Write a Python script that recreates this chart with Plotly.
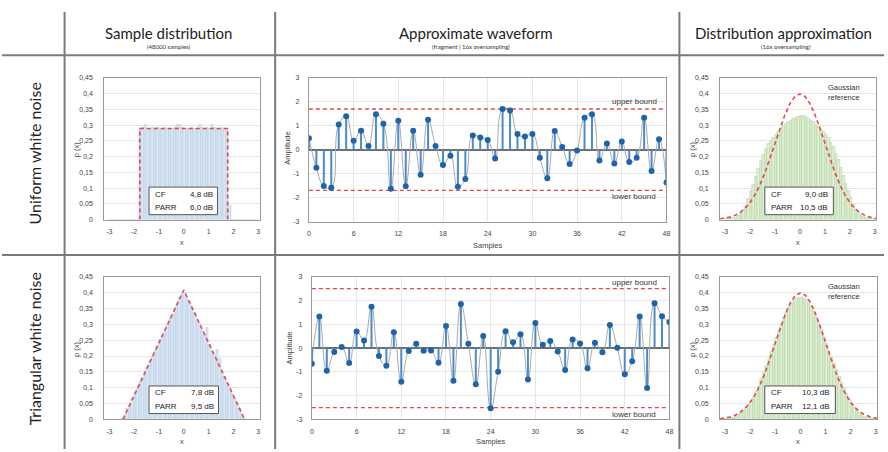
import plotly.graph_objects as go

# ---------------- data ----------------
bin_centers = [round(-2.95 + 0.1 * i, 2) for i in range(60)]

uniform_hist = [0] * 12 + [
    0.287, 0.290, 0.302, 0.289, 0.288, 0.291, 0.287, 0.290, 0.289, 0.288,
    0.290, 0.289, 0.288, 0.287, 0.291, 0.301, 0.302, 0.290, 0.289, 0.288,
    0.288, 0.290, 0.287, 0.289, 0.301, 0.290, 0.288, 0.291, 0.289, 0.301,
    0.290, 0.288, 0.289, 0.290, 0.288, 0.287] + [0.045] + [0] * 11

triangular_hist = [0] * 5 + [
    0.002, 0.016, 0.033, 0.049, 0.066, 0.084, 0.098, 0.118, 0.131, 0.151,
    0.165, 0.185, 0.199, 0.218, 0.232, 0.251, 0.265, 0.284, 0.298, 0.318,
    0.331, 0.352, 0.364, 0.385, 0.397, 0.401, 0.381, 0.368, 0.348, 0.335,
    0.315, 0.302, 0.281, 0.268, 0.290, 0.236, 0.214, 0.201, 0.220, 0.190,
    0.148, 0.135, 0.115, 0.101, 0.082, 0.067, 0.049, 0.034, 0.016, 0.002] + [0] * 5

uniform_os_hist = [
    0.002, 0.003, 0.004, 0.005, 0.007, 0.012, 0.020, 0.030, 0.045, 0.065,
    0.090, 0.110, 0.135, 0.160, 0.185, 0.205, 0.225, 0.240, 0.250, 0.260,
    0.270, 0.280, 0.290, 0.295, 0.305, 0.310, 0.315, 0.320, 0.322, 0.325,
    0.328, 0.330, 0.325, 0.320, 0.315, 0.310, 0.300, 0.295, 0.285, 0.280,
    0.270, 0.260, 0.245, 0.230, 0.210, 0.190, 0.165, 0.140, 0.115, 0.090,
    0.068, 0.048, 0.032, 0.020, 0.013, 0.008, 0.005, 0.004, 0.003, 0.002]

triangular_os_hist = [
    0.002, 0.003, 0.005, 0.007, 0.010, 0.014, 0.020, 0.027, 0.036, 0.047,
    0.058, 0.072, 0.088, 0.107, 0.128, 0.148, 0.168, 0.190, 0.213, 0.235,
    0.258, 0.280, 0.300, 0.320, 0.338, 0.353, 0.365, 0.374, 0.380, 0.384,
    0.385, 0.382, 0.376, 0.366, 0.354, 0.340, 0.322, 0.302, 0.282, 0.262,
    0.240, 0.218, 0.196, 0.176, 0.156, 0.136, 0.116, 0.097, 0.080, 0.064,
    0.050, 0.038, 0.028, 0.020, 0.014, 0.010, 0.007, 0.005, 0.003, 0.002]

uniform_ref_x = [-1.77, -1.77, 1.77, 1.77]
uniform_ref_y = [0, 0.289, 0.289, 0]
triangular_ref_x = [-2.45, 0, 2.45]
triangular_ref_y = [0, 0.408, 0]

gauss_x = [-3.2, -3.0, -2.8, -2.6, -2.4, -2.2, -2.0, -1.8, -1.6, -1.4, -1.2, -1.0, -0.8, -0.6, -0.4, -0.2,
           0.0, 0.2, 0.4, 0.6, 0.8, 1.0, 1.2, 1.4, 1.6, 1.8, 2.0, 2.2, 2.4, 2.6, 2.8, 3.0, 3.05]
gauss_y = [0.0024, 0.0044, 0.0079, 0.0136, 0.0224, 0.0355, 0.0540, 0.0790, 0.1109, 0.1497, 0.1942, 0.2420,
           0.2897, 0.3332, 0.3683, 0.3910, 0.3989, 0.3910, 0.3683, 0.3332, 0.2897, 0.2420, 0.1942, 0.1497,
           0.1109, 0.0790, 0.0540, 0.0355, 0.0224, 0.0136, 0.0079, 0.0044, 0.0038]

samples = list(range(49))
uniform_wave = [
    0.48, -0.75, -1.52, -1.59, 1.05, 1.40, 0.37, 0.79, 0.15, 1.48,
    1.08, -1.63, 1.21, -1.53, 0.79, -1.05, 1.25, 0.16, -0.64, -0.25,
    -1.55, -1.22, 0.59, 0.51, 0.41, -0.37, 1.70, 1.64, 0.66, 0.55,
    0.66, -0.34, -1.19, 0.78, 0.11, -0.60, -0.03, 1.33, 1.48, -0.45,
    0.26, -0.58, 0.34, -0.51, -0.34, 1.33, -0.89, 0.44, -1.37]
triangular_wave = [
    -0.66, 1.33, -0.95, -0.16, 0.05, -0.63, 0.70, 0.32, 1.74, -0.33,
    -0.74, 0.67, -1.41, -0.12, 0.18, -0.11, -0.10, -0.62, 0.93, -1.37,
    1.85, 0.18, -1.52, 0.51, -2.53, -0.99, 0.71, 0.25, 0.58, -1.32,
    1.05, 0.14, 0.30, -0.14, -0.92, 0.36, 0.19, -0.85, 0.22, -0.18,
    0.97, 0.01, -1.10, -0.55, 1.33, -1.68, 1.88, 1.34, 1.10]
uniform_bound = 1.70
triangular_bound = 2.50

dist_ticks = [-3, -2, -1, 0, 1, 2, 3]
dist_tick_labels = ["-3", "-2", "-1", "0", "1", "2", "3"]
p_ticks = [0, 0.05, 0.1, 0.15, 0.2, 0.25, 0.3, 0.35, 0.4, 0.45]
p_tick_labels = ["0", "0,05", "0,1", "0,15", "0,2", "0,25", "0,3", "0,35", "0,4", "0,45"]
wave_xticks = [0, 6, 12, 18, 24, 30, 36, 42, 48]
wave_yticks = [-3, -2, -1, 0, 1, 2, 3]
wave_ytick_labels = ["-3", "-2", "-1", "0", "1", "2", "3"]

col_titles = ["Sample distribution", "Approximate waveform", "Distribution approximation"]
col_subtitles = ["(48000 samples)", "(fragment | 16x oversampling)", "(16x oversampling)"]
row_titles = ["Uniform white noise", "Triangular white noise"]
cf_values = [("4,8 dB", "6,0 dB"), ("9,0 dB", "10,5 dB"), ("7,8 dB", "9,5 dB"), ("10,3 dB", "12,1 dB")]

# ---------------- layout helpers ----------------
W, H = 888, 452
def px(x):
    return x / W
def py(y):
    return 1 - y / H

TICKFONT = dict(family="Liberation Sans, Arial, sans-serif", size=7, color="#444444")
BORDER = "#9a9a9a"
GRID = "#e6e6e6"
BLUE_FILL = "#dde8f4"
BLUE_LINE = "#b3cce6"
GREEN_FILL = "#e0eed8"
GREEN_LINE = "#b2d59e"
RED = "#e3494d"
STEM = "#4a8ccb"
DOT = "#1f64a8"
DASH = "4px,3px"

fig = go.Figure()

panels = {
    1: (103, 260, 75, 219),
    2: (309, 669, 75, 221),
    3: (723, 880, 75, 219),
    4: (103, 260, 277, 422),
    5: (312, 672, 277, 422),
    6: (723, 881, 277, 422),
}

def ax_names(k):
    return ("x" if k == 1 else f"x{k}", "y" if k == 1 else f"y{k}")

layout_axes = {}
for k, (x0, x1, y0, y1) in panels.items():
    xa = "xaxis" if k == 1 else f"xaxis{k}"
    ya = "yaxis" if k == 1 else f"yaxis{k}"
    xn, yn = ax_names(k)
    common = dict(showline=True, mirror=True, linecolor=BORDER, linewidth=1, ticks="",
                  tickfont=TICKFONT, fixedrange=True)
    if k in (2, 5):
        layout_axes[xa] = dict(domain=[px(x0), px(x1)], anchor=yn, range=[0, 48], tickvals=wave_xticks,
                               showgrid=True, gridcolor=GRID, zeroline=False, ticklabelstandoff=5, **common)
        layout_axes[ya] = dict(domain=[py(y1), py(y0)], anchor=xn, range=[-3, 3], tickvals=wave_yticks,
                               ticktext=wave_ytick_labels,
                               showgrid=True, gridcolor=GRID, zeroline=True, zerolinecolor="#6e6e6e",
                               zerolinewidth=1.5, ticklabelstandoff=7, **common)
    else:
        xr = [-3.2, 3.08] if k in (1, 4) else [-3.2, 3.05]
        layout_axes[xa] = dict(domain=[px(x0), px(x1)], anchor=yn, range=xr, tickvals=dist_ticks,
                               ticktext=dist_tick_labels,
                               showgrid=False, zeroline=False, ticklabelstandoff=5, **common)
        layout_axes[ya] = dict(domain=[py(y1), py(y0)], anchor=xn, range=[0, 0.45], tickvals=p_ticks,
                               ticktext=p_tick_labels, showgrid=True, gridcolor=GRID, zeroline=False,
                               ticklabelstandoff=9, **common)

# histograms
for k, vals, fill, line in [(1, uniform_hist, BLUE_FILL, BLUE_LINE), (4, triangular_hist, BLUE_FILL, BLUE_LINE),
                            (3, uniform_os_hist, GREEN_FILL, GREEN_LINE), (6, triangular_os_hist, GREEN_FILL, GREEN_LINE)]:
    xn, yn = ax_names(k)
    fig.add_trace(go.Bar(x=bin_centers, y=vals, width=0.1, xaxis=xn, yaxis=yn,
                         marker=dict(color=fill, line=dict(color=line, width=0.6)), hoverinfo="skip"))

# red reference curves
ref_line = dict(color=RED, width=1.6, dash=DASH)
fig.add_trace(go.Scatter(x=uniform_ref_x, y=uniform_ref_y, mode="lines", line=ref_line, xaxis="x", yaxis="y"))
fig.add_trace(go.Scatter(x=triangular_ref_x, y=triangular_ref_y, mode="lines", line=ref_line, xaxis="x4", yaxis="y4"))
for k in (3, 6):
    xn, yn = ax_names(k)
    fig.add_trace(go.Scatter(x=gauss_x, y=gauss_y, mode="lines", line=ref_line, xaxis=xn, yaxis=yn))

# waveforms
for k, wave, bound in [(2, uniform_wave, uniform_bound), (5, triangular_wave, triangular_bound)]:
    xn, yn = ax_names(k)
    fig.add_trace(go.Scatter(x=samples, y=wave, mode="lines",
                             line=dict(color="#a8a8a8", width=1, shape="spline", smoothing=1.3),
                             xaxis=xn, yaxis=yn))
    for b in (bound, -bound):
        fig.add_trace(go.Scatter(x=[0, 48], y=[b, b], mode="lines", line=dict(color=RED, width=1.3, dash=DASH),
                                 xaxis=xn, yaxis=yn))
    fig.add_trace(go.Scatter(x=samples, y=wave, mode="markers",
                             marker=dict(color=DOT, size=6),
                             error_y=dict(type="data", symmetric=False,
                                          array=[max(-v, 0) for v in wave],
                                          arrayminus=[max(v, 0) for v in wave],
                                          width=0, thickness=2, color=STEM),
                             xaxis=xn, yaxis=yn))

# ---------------- table grid ----------------
shapes = []
gl = dict(color="#7a7a7a", width=2)
for y in (52, 255):
    shapes.append(dict(type="line", xref="paper", yref="paper", x0=0, x1=1, y0=py(y), y1=py(y), line=gl))
for x in (63, 275, 682):
    shapes.append(dict(type="line", xref="paper", yref="paper", x0=px(x), x1=px(x), y0=py(8), y1=0, line=gl))

annotations = []
TXT = "#222222"
TITLEFONT = dict(family="Lato, Open Sans, sans-serif", size=15, color=TXT)
for cx, t, s, scx in [(168, col_titles[0], col_subtitles[0], 168), (477, col_titles[1], col_subtitles[1], 472),
                      (787, col_titles[2], col_subtitles[2], 789)]:
    annotations.append(dict(x=px(cx), y=py(29), xref="paper", yref="paper", text=t, showarrow=False,
                            font=TITLEFONT, xanchor="center", yanchor="middle"))
    annotations.append(dict(x=px(scx), y=py(43), xref="paper", yref="paper", text=s, showarrow=False,
                            font=dict(family="Lato, sans-serif", size=6, color="#333"), xanchor="center", yanchor="middle"))
for cy, t in [(152, row_titles[0]), (350, row_titles[1])]:
    annotations.append(dict(x=px(33), y=py(cy), xref="paper", yref="paper", text=t, showarrow=False, textangle=-90,
                            font=dict(family="Lato, Open Sans, sans-serif", size=16, color=TXT),
                            xanchor="center", yanchor="middle"))

AXF = dict(family="Liberation Sans, Arial, sans-serif", size=7.5, color="#444")
def ann(x, y, text, angle=0, font=AXF, xanchor="center"):
    annotations.append(dict(x=px(x), y=py(y), xref="paper", yref="paper", text=text, showarrow=False,
                            textangle=angle, font=font, xanchor=xanchor, yanchor="middle"))

# axis titles
for left, cx in [(75, 181), (695, 801)]:
    ann(left, 147, "p (x)", -90)
    ann(cx, 242, "x")
    ann(left, 350, "p (x)", -90)
    ann(cx, 444, "x")
ann(288, 147, "Amplitude", -90)
ann(489, 245, "Samples")
ann(290, 350, "Amplitude", -90)
ann(492, 444, "Samples")

# bound labels
BF = dict(family="Liberation Sans, Arial, sans-serif", size=8, color="#333")
ann(637, 99, "upper bound", font=BF)
ann(636, 196, "lower bound", font=BF)
ann(637, 283, "upper bound", font=BF)
ann(636, 417, "lower bound", font=BF)

# gaussian reference labels
GF = dict(family="Liberation Sans, Arial, sans-serif", size=7.5, color="#333")
ann(848, 90, "Gaussian<br>reference", font=GF)
ann(848, 292, "Gaussian<br>reference", font=GF)

# CF / PARR boxes
CFF = dict(family="Liberation Sans, Arial, sans-serif", size=8, color="#222")
for (bx0, by0, bx1, by1), (cf, parr) in zip([(148, 186, 217, 214), (768, 186, 837, 214),
                                              (148, 388, 218, 416), (768, 388, 839, 416)], cf_values):
    shapes.append(dict(type="rect", xref="paper", yref="paper", x0=px(bx0), x1=px(bx1), y0=py(by1), y1=py(by0),
                       line=dict(color="#555", width=1), fillcolor="white", layer="above"))
    ann(bx0 + 4, by0 + 7, "CF", font=CFF, xanchor="left")
    ann(bx0 + 4, by0 + 21, "PARR", font=CFF, xanchor="left")
    ann(bx1 - 3, by0 + 7, cf, font=CFF, xanchor="right")
    ann(bx1 - 3, by0 + 21, parr, font=CFF, xanchor="right")

fig.update_layout(width=W, height=H, margin=dict(l=0, r=0, t=0, b=0), showlegend=False,
                  paper_bgcolor="white", plot_bgcolor="white", bargap=0, shapes=shapes, annotations=annotations,
                  **layout_axes)

fig.write_html("out.html", config={"displayModeBar": False})
